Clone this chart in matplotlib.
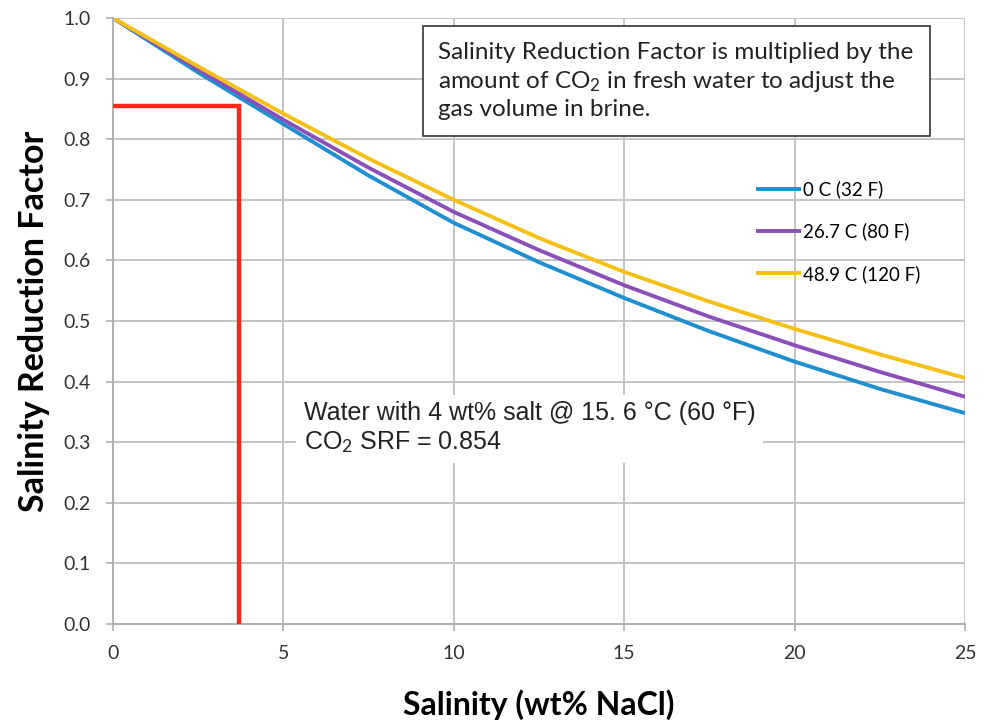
import matplotlib.pyplot as plt

plt.rcParams['mathtext.fontset'] = 'custom'
plt.rcParams['mathtext.rm'] = 'Lato'
plt.rcParams['mathtext.it'] = 'Lato'

salinity = [0, 2.5, 5, 7.5, 10, 12.5, 15, 17.5, 20, 22.5, 25]
srf_0c = [1.0, 0.91, 0.825, 0.74, 0.662, 0.597, 0.538, 0.483, 0.433, 0.388, 0.348]
srf_267c = [1.0, 0.915, 0.832, 0.753, 0.68, 0.617, 0.559, 0.507, 0.46, 0.416, 0.375]
srf_489c = [1.0, 0.92, 0.842, 0.768, 0.70, 0.637, 0.581, 0.532, 0.487, 0.445, 0.406]
labels = ['0 C (32 F)', '26.7 C (80 F)', '48.9 C (120 F)']
colors = ['#1f8fd0', '#8a4fb8', '#f5c013']

example_salt = 3.7
example_srf = 0.854

fig = plt.figure(figsize=(9.86, 7.22), dpi=100)
ax = fig.add_axes([113/986, 1 - 624/722, (965-113)/986, (624-18)/722])

for ys, c, lab in zip([srf_0c, srf_267c, srf_489c], colors, labels):
    ax.plot(salinity, ys, color=c, lw=2.8, label=lab, solid_capstyle='butt')

ax.plot([0, example_salt, example_salt], [example_srf, example_srf, 0],
        color='#f7281c', lw=3.2, solid_joinstyle='miter', zorder=4)

ax.set_xlim(0, 25)
ax.set_ylim(0, 1.0)
ax.set_xticks([0, 5, 10, 15, 20, 25])
ax.set_yticks([i / 10 for i in range(11)])
ax.set_yticklabels(['%.1f' % (i / 10) for i in range(11)])
ax.grid(True, color='#c4c4c4', lw=1.4)
ax.set_axisbelow(True)
for s in ['top', 'right']:
    ax.spines[s].set_visible(False)
for s in ['left', 'bottom']:
    ax.spines[s].set_color('#b0b0b0')
    ax.spines[s].set_linewidth(1.4)
ax.tick_params(colors='#b0b0b0', length=5, width=1.2, labelcolor='#333333',
               labelsize=14)
ax.tick_params(axis='x', pad=10)
ax.tick_params(axis='y', pad=11)
for t in ax.get_xticklabels() + ax.get_yticklabels():
    t.set_family('Lato')

ax.set_xlabel('Salinity (wt% NaCl)', fontsize=23, fontweight='bold',
              family='Lato', labelpad=20)
ax.set_ylabel('Salinity Reduction Factor', fontsize=24.5, fontweight='bold',
              family='Lato', labelpad=10)

leg = ax.legend(loc='upper left', bbox_to_anchor=(0.735, 0.76), frameon=False,
                handlelength=2.4, handletextpad=0.1, labelspacing=1.3,
                prop={'family': 'Lato', 'size': 13.5})

ax.text(0.382, 0.96,
        'Salinity Reduction Factor is multiplied by the\n'
        'amount of CO$_2$ in fresh water to adjust the\n'
        'gas volume in brine.',
        transform=ax.transAxes, ha='left', va='top', fontsize=17.5,
        family='Lato', color='#222222', linespacing=1.3,
        bbox=dict(boxstyle='square,pad=0.65', fc='white', ec='#333333', lw=1.2))

ax.text(0.224, 0.323,
        'Water with 4 wt% salt @ 15. 6 \u00b0C (60 \u00b0F)\nCO$_2$ SRF = 0.854',
        transform=ax.transAxes, ha='left', va='center', fontsize=18,
        family='Liberation Sans', color='#222222', linespacing=1.2,
        bbox=dict(boxstyle='square,pad=0.3', fc='white', ec='none'))

fig.savefig('out.png', dpi=100)
